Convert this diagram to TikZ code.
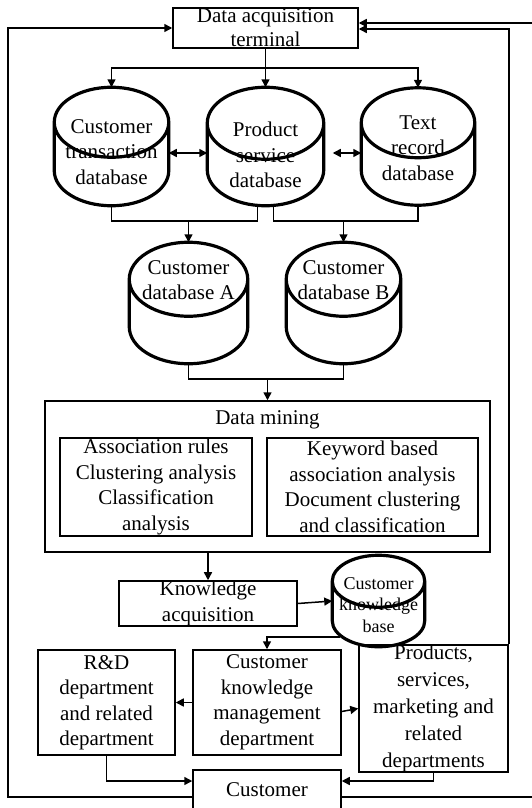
\documentclass[tikz,border=0pt]{standalone}
\usepackage{fontspec}
\setmainfont{Liberation Serif}
\usetikzlibrary{arrows.meta, calc}
\usetikzlibrary{positioning}

\tikzset{
	box/.style={draw, line width=1.5pt, inner sep=0pt, align=center},
	canbox/.style={inner sep=0pt},
	can/.style={line width=3.2pt},
	txt/.style={inner sep=0pt, align=center},
}

% database can around a node: #1 node, #2 half height of the ellipse
\newcommand\dbcan[2]{%
	\draw[can] let \p1=(#1.north west), \p2=(#1.south east), \n1={(\x2-\x1)/2} in
		(\x1,\y1-#2pt) arc[start angle=180, end angle=-180, x radius=\n1, y radius=#2pt]
		-- (\x1,\y2+#2pt) arc[start angle=180, end angle=360, x radius=\n1, y radius=#2pt]
		-- (\x2,\y1-#2pt);}

\begin{document}
\begin{tikzpicture}[x=1pt, y=-1pt, line width=1.5pt, >={Triangle[length=8pt,width=8pt]}, font=\fontsize{21}{25.5}\selectfont]
			\useasboundingbox (0,0) rectangle (532,808);
			
			\node[box, minimum width=185, minimum height=40, font=\fontsize{21}{24}\selectfont] (dat) at (265.5,28) {Data acquisition\\terminal};
			
			% databases
			\node[canbox, minimum width=113, minimum height=117] (ct) at (111.5,146.5) {};
			\node[canbox, minimum width=115, minimum height=117] (ps) at (265.5,146.5) {};
			\node[canbox, minimum width=112, minimum height=116] (tr) at (418,146.5) {};
			\node[canbox, minimum width=117, minimum height=120] (dba) at (188.5,303) {};
			\node[canbox, minimum width=113, minimum height=120] (dbb) at (343.5,303) {};
			\node[canbox, minimum width=91, minimum height=90] (ckb) at (378.5,601) {};
			\foreach \db/\ry in {ct/35, ps/36, tr/35, dba/37, dbb/37, ckb/26}{
				\dbcan{\db}{\ry}
			}
			
			\node[txt] (cttxt) at (111.5,152) {Customer\\transaction\\database};
			\node[txt] (pstxt) at (265.5,155) {Product\\service\\database};
			\node[txt] (trtxt) at (418,148) {Text\\record\\database};
			\node[txt] (datxt) at (188.5,280) {Customer\\database A};
			\node[txt] (dbtxt) at (343.5,280) {Customer\\database B};
			\node[txt, font=\fontsize{18}{21.5}\selectfont] (ckbtxt) at (378.5,605) {Customer\\knowledge\\base};
			
			% data mining
			\node[box, minimum width=445, minimum height=151] (dm) at (267.5,476.5) {};
			\node[txt] (dmtxt) at (267.5,420) {Data mining};
			\node[box, minimum width=192, minimum height=98] (rules) at (156,487) {Association rules\\Clustering analysis\\Classification\\analysis};
			\node[box, minimum width=211, minimum height=98] (kw) at (372.5,487) {Keyword based\\association analysis\\Document clustering\\and classification};
			
			\node[box, minimum width=178, minimum height=45, font=\fontsize{21}{26}\selectfont] (ka) at (208,603.5) {Knowledge\\acquisition};
			
			% departments
			\node[box, minimum width=137, minimum height=105] (rd) at (106.5,702.5) {R\&D\\department\\and related\\department};
			\node[box, minimum width=148, minimum height=105] (ckm) at (267,702.5) {Customer\\knowledge\\management\\department};
			\node[box, minimum width=149, minimum height=117, font=\fontsize{21}{27}\selectfont] (pr) at (433.5,708.5) {Products,\\services,\\marketing and\\related\\departments};
			\node[box, minimum width=148, minimum height=40] (cu) at (267,790) {Customer};
			
			\coordinate (split) at (265.5,68);
			\coordinate (ja) at (188.5,221);
			\coordinate (jb) at (343.5,221);
			\coordinate (jc) at (267.5,379);
			\coordinate (lc) at (8,28);
			\coordinate (rc) at (545,23);
			
			\draw (dat.south) -- (split);
			\foreach \db in {ct, ps, tr}{
				\draw[->] (split) -| (\db.north);
			}
			\draw[<->] ([yshift=-6.5pt]ct.east) -- ([yshift=-6.5pt]ps.west);
			\draw[<->] ([xshift=9pt,yshift=-6.5pt]ps.east) -- ([yshift=-6.5pt]tr.west);
			
			\draw (ct.south) |- (ja) -| ([xshift=-8pt]ps.south);
			\draw[->] (ja) -- (dba.north);
			\draw ([xshift=8pt]ps.south) |- (jb) -| (tr.south);
			\draw[->] (jb) -- (dbb.north);
			\draw (dba.south) |- (jc) -| (dbb.south);
			\draw[->] (jc) -- (dm.north);
			
			\draw[->] (dm.south -| ka.north) -- (ka.north);
			\draw[->] (ka.east) -- (ckb.west);
			\draw[->] ([xshift=8pt,yshift=10pt]ckb.south west) -| (ckm.north);
			\draw[->] (ckm.west) -- (rd.east);
			\draw[->] ([yshift=-9pt]ckm.east) -- (pr.west);
			\draw[->] (rd.south) |- ([yshift=9pt]cu.west);
			\draw[->] (pr.south) |- ([yshift=9pt]cu.east);
			
			% feedback to the terminal
			\draw[->] ([yshift=-7pt]cu.west) -| (lc) -- (dat.west);
			\draw[->] ([yshift=-7pt]cu.east) -| (rc) -- ([yshift=5pt]dat.east);
			\draw[->] (pr.north east) |- ([yshift=-1pt]dat.east);
			
		\end{tikzpicture}
\end{document}
